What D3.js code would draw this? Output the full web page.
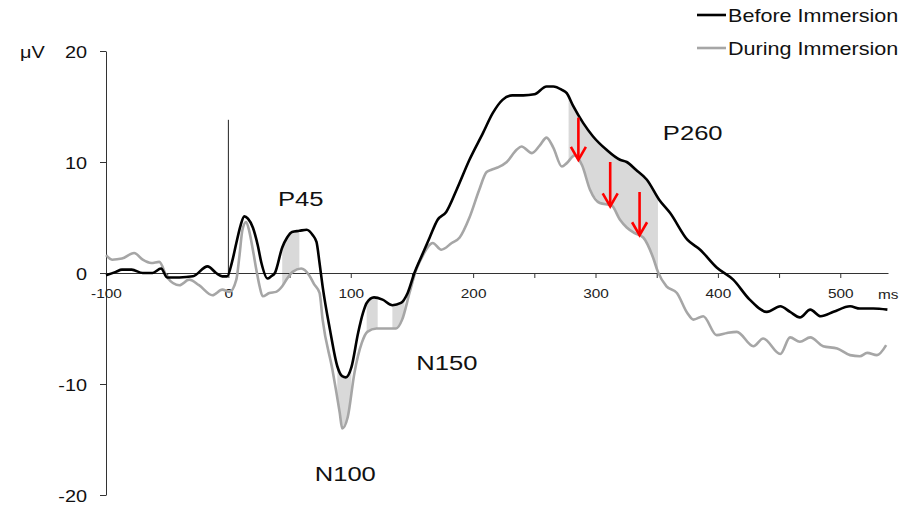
<!DOCTYPE html>
<html>
<head>
<meta charset="utf-8">
<script src="https://cdn.jsdelivr.net/npm/d3@7"></script>
<style>
  html, body { margin: 0; padding: 0; background: #fff; }
  svg { display: block; font-family: "Liberation Sans", Arial, sans-serif; }
</style>
</head>
<body>
<svg id="chart" width="909" height="507"></svg>
<script>
// ---------------- data ----------------
const beforeTimes = [-100,-92,-87,-79,-70,-62,-55,-50,-40,-29,-17,-10,-5,-1,3,6.5,10,13,16,20,24,27,32,35,38,44,48,52,58,64,69,72,74.5,77,83,89,93,96,100.5,106,110,113,119,126,134,141,146.5,152,159,164.5,171,178,186.5,197,208,216,224,232,241,250,260,265.5,272.5,276.5,281.5,290,298,309,320,325.5,333,342,352,361,375,385.5,399,412.5,426,440,451,459,467,475.5,484,494.5,508,516,527,538.5];
const beforeValues = [-0.2,0.1,0.3,0.3,0.0,0.0,0.4,-0.4,-0.4,-0.3,0.6,0.0,-0.3,-0.3,1.0,2.7,4.3,5.1,4.9,4.1,2.5,0.9,-0.5,-0.3,0.0,2.3,3.2,3.7,3.8,3.9,3.4,2.8,0.9,-1.2,-5.1,-8.4,-9.3,-9.4,-8.5,-5.4,-3.6,-2.7,-2.2,-2.4,-2.9,-2.7,-1.8,0.0,1.8,3.2,4.8,5.5,7.5,10.2,12.6,14.4,15.6,16.0,16.0,16.1,16.8,16.8,16.5,16.2,15.1,13.5,12.3,11.1,10.2,10.0,9.3,8.4,6.6,5.4,3.0,2.1,0.5,-0.6,-2.4,-3.5,-3.0,-3.5,-4.0,-3.3,-3.9,-3.5,-3.0,-3.2,-3.2,-3.3];

const duringTimes = [-100,-95,-87,-77,-70,-63,-56.5,-50,-40,-32,-24,-13,-5,1,6.5,9,11.5,14.5,17,20,23,25.5,28,33.5,39,44,48,52.5,59.5,66,70,74.5,77,85,91,93,97.5,103,109,113.5,121,129,137,142,148,153.5,159,167,174,182.5,189,197,205,211,215,220,227.5,235.5,239.5,248,254.5,260,265.5,272.5,276.5,283,289,295.5,303.5,313,320,325.5,332,339,347,351,358,366.5,375,380,388,399,407.5,415.5,429,437,451,459,467,475.5,486,497.5,508,516,522,530,537.5];
const duringValues = [1.6,1.2,1.3,1.8,1.2,0.9,1.0,-0.4,-1.1,-0.6,-1.1,-2.0,-1.5,-1.7,-0.6,1.5,3.9,4.6,3.8,2.1,0.2,-1.2,-2.1,-1.8,-1.7,-1.2,-0.5,0.1,0.4,-0.2,-1.0,-1.8,-4.2,-8.7,-12.6,-14.0,-13.0,-9.0,-6.3,-5.3,-5.0,-5.0,-5.0,-4.2,-1.8,0.3,1.6,2.7,2.1,2.7,3.2,5.0,7.5,9.1,9.3,9.5,10.0,11.1,11.4,10.8,11.5,12.2,11.3,9.6,9.9,10.6,9.7,7.5,6.3,6.1,4.8,4.1,3.6,3.2,1.4,0.1,-1.2,-1.8,-3.6,-4.2,-3.9,-5.6,-5.4,-5.3,-6.6,-5.9,-7.3,-5.8,-6.2,-5.8,-6.6,-6.8,-7.4,-7.5,-7.2,-7.4,-6.5];

const seriesNames = ["Before Immersion", "During Immersion"];
const shadedIntervals = [[44,58],[89,100.5],[113,122],[134,144],[278,351]];
const arrowTimes = [286, 312, 336];
const arrowTops = [14.0, 10.0, 7.3];
const arrowTips = [10.2, 6.0, 3.4];
const yTickValues = [-20, -10, 0, 10, 20];
const xLabelValues = [-100, 0, 100, 200, 300, 400, 500];
const xTickValues = [-100,-50,0,50,100,150,200,250,300,350,400,450,500];
const componentLabels = ["P45", "N100", "N150", "P260"];
const componentPos = [[40.5, 6.0], [70.5, -18.7], [153.5, -8.7], [355, 12.0]]; // [ms, µV] of text left/baseline
const onsetTop = 13.8;

// ---------------- setup ----------------
const svg = d3.select("#chart");
const x = d3.scaleLinear().domain([-100, 539]).range([106, 888]);
const y = d3.scaleLinear().domain([-20, 20]).range([495, 51]);
const SX = 1.22; // horizontal stretch of the text in the reference

const before = beforeTimes.map((t, i) => [t, beforeValues[i]]);
const during = duringTimes.map((t, i) => [t, duringValues[i]]);

function interp(data, t) {
  const i = d3.bisector(d => d[0]).left(data, t);
  if (i <= 0) return data[0][1];
  if (i >= data.length) return data[data.length - 1][1];
  const a = data[i - 1], b = data[i];
  const f = (t - a[0]) / (b[0] - a[0]);
  return a[1] + f * (b[1] - a[1]);
}

// ---------------- shading ----------------
const area = d3.area()
  .x(d => x(d.t)).y0(d => y(d.lo)).y1(d => y(d.hi))
  .curve(d3.curveLinear);
shadedIntervals.forEach(([a, b]) => {
  let ts = [a, b];
  before.concat(during).forEach(d => { if (d[0] > a && d[0] < b) ts.push(d[0]); });
  ts = Array.from(new Set(ts)).sort((p, q) => p - q);
  const pts = ts.map(t => ({ t, hi: interp(before, t), lo: interp(during, t) }));
  svg.append("path").attr("d", area(pts)).attr("fill", "#d9d9d9").attr("stroke", "none");
});

// ---------------- axes ----------------
const axisColor = "#333";
const yAxis = svg.append("g").attr("transform", `translate(${x(-100)},0)`)
  .call(d3.axisLeft(y).tickValues(yTickValues).tickSize(6).tickSizeOuter(0).tickFormat(d => String(d)));
yAxis.select(".domain").attr("stroke", axisColor);
yAxis.selectAll(".tick line").attr("stroke", axisColor);
yAxis.selectAll(".tick text")
  .attr("x", 0).attr("dy", null).attr("y", 0)
  .attr("transform", "translate(-19,6.8) scale(" + SX + ",1)")
  .attr("text-anchor", "end")
  .attr("font-size", "16.3px").attr("fill", "#111")
  .attr("font-family", "Liberation Sans, Arial, sans-serif");

const xAxis = svg.append("g").attr("transform", `translate(0,${y(0)})`)
  .call(d3.axisBottom(x).tickValues(xTickValues).tickSize(5).tickSizeOuter(0)
    .tickFormat(d => xLabelValues.includes(d) ? String(d) : ""));
xAxis.select(".domain").attr("stroke", axisColor);
xAxis.selectAll(".tick line").attr("stroke", axisColor);
xAxis.selectAll(".tick text")
  .attr("y", 0).attr("dy", null)
  .attr("transform", "translate(0,25) scale(" + SX + ",1)")
  .attr("font-size", "12.6px").attr("fill", "#222")
  .attr("font-family", "Liberation Sans, Arial, sans-serif");

// onset line
svg.append("line")
  .attr("x1", x(0)).attr("x2", x(0)).attr("y1", y(0)).attr("y2", y(onsetTop))
  .attr("stroke", "#222").attr("stroke-width", 1);

// units
svg.append("text").attr("transform", `translate(20,58.3) scale(${SX},1)`)
  .attr("font-size", "16.3px").attr("fill", "#111").text("μV");
svg.append("text").attr("transform", `translate(878,299) scale(${SX},1)`)
  .attr("font-size", "12.6px").attr("fill", "#222").text("ms");

// ---------------- lines ----------------
const line = d3.line().x(d => x(d[0])).y(d => y(d[1])).curve(d3.curveMonotoneX);
svg.append("path").datum(during).attr("d", line)
  .attr("fill", "none").attr("stroke", "#a6a6a6").attr("stroke-width", 2.6).attr("stroke-linejoin", "round");
svg.append("path").datum(before).attr("d", line)
  .attr("fill", "none").attr("stroke", "#000").attr("stroke-width", 2.6).attr("stroke-linejoin", "round");

// ---------------- arrows ----------------
arrowTimes.forEach((t, i) => {
  const ax = x(t), y1 = y(arrowTops[i]), y2 = y(arrowTips[i]);
  svg.append("line").attr("x1", ax).attr("x2", ax).attr("y1", y1).attr("y2", y2)
    .attr("stroke", "#ff0000").attr("stroke-width", 2.6);
  svg.append("path")
    .attr("d", `M${ax - 7.5},${y2 - 13}L${ax},${y2}L${ax + 7.5},${y2 - 13}`)
    .attr("fill", "none").attr("stroke", "#ff0000").attr("stroke-width", 2.6)
    .attr("stroke-linejoin", "miter");
});

// ---------------- component labels ----------------
componentLabels.forEach((lab, i) => {
  svg.append("text")
    .attr("transform", `translate(${x(componentPos[i][0])},${y(componentPos[i][1])}) scale(${SX},1)`)
    .attr("font-size", "21px").attr("fill", "#111").text(lab);
});

// ---------------- legend ----------------
const legendColors = ["#000", "#a6a6a6"];
const legendY = [15, 48];
seriesNames.forEach((name, i) => {
  svg.append("line").attr("x1", 697).attr("x2", 726).attr("y1", legendY[i]).attr("y2", legendY[i])
    .attr("stroke", legendColors[i]).attr("stroke-width", 2.6);
  svg.append("text").attr("transform", `translate(728,${legendY[i] + 6.5}) scale(${SX},1)`)
    .attr("font-size", "17.7px").attr("fill", "#111").text(name);
});
</script>
</body>
</html>
